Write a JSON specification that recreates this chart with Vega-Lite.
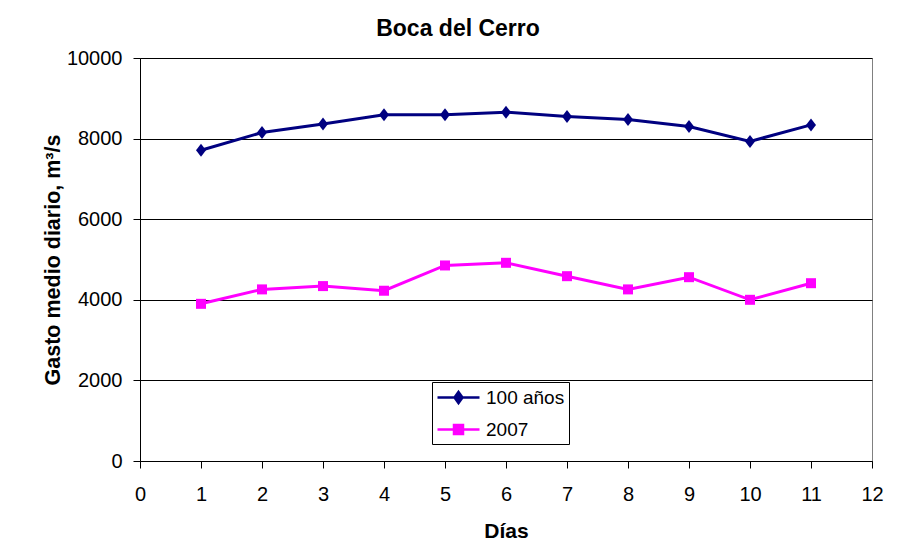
{
  "$schema": "https://vega.github.io/schema/vega-lite/v6.json",
  "width": 732,
  "height": 403,
  "autosize": {"type": "none"},
  "padding": {"left": 140, "top": 58, "right": 26, "bottom": 97},
  "background": "white",
  "title": {
    "text": "Boca del Cerro",
    "font": "Liberation Sans",
    "fontSize": 23,
    "fontWeight": "bold",
    "color": "black",
    "anchor": "middle",
    "dx": -48,
    "offset": 7
  },
  "config": {
    "font": "Liberation Sans",
    "view": {"stroke": "#808080", "strokeWidth": 1}
  },
  "data": {
    "values": [
      {"dia": 1, "serie": "100 años", "gasto": 7710},
      {"dia": 2, "serie": "100 años", "gasto": 8150},
      {"dia": 3, "serie": "100 años", "gasto": 8365},
      {"dia": 4, "serie": "100 años", "gasto": 8590},
      {"dia": 5, "serie": "100 años", "gasto": 8590},
      {"dia": 6, "serie": "100 años", "gasto": 8655},
      {"dia": 7, "serie": "100 años", "gasto": 8550},
      {"dia": 8, "serie": "100 años", "gasto": 8475},
      {"dia": 9, "serie": "100 años", "gasto": 8300},
      {"dia": 10, "serie": "100 años", "gasto": 7930},
      {"dia": 11, "serie": "100 años", "gasto": 8340},
      {"dia": 1, "serie": "2007", "gasto": 3900},
      {"dia": 2, "serie": "2007", "gasto": 4258},
      {"dia": 3, "serie": "2007", "gasto": 4340},
      {"dia": 4, "serie": "2007", "gasto": 4225},
      {"dia": 5, "serie": "2007", "gasto": 4852},
      {"dia": 6, "serie": "2007", "gasto": 4918},
      {"dia": 7, "serie": "2007", "gasto": 4586},
      {"dia": 8, "serie": "2007", "gasto": 4258},
      {"dia": 9, "serie": "2007", "gasto": 4561},
      {"dia": 10, "serie": "2007", "gasto": 4000},
      {"dia": 11, "serie": "2007", "gasto": 4412}
    ]
  },
  "encoding": {
    "x": {
      "field": "dia",
      "type": "quantitative",
      "scale": {"domain": [0, 12], "nice": false, "zero": false},
      "axis": {
        "title": "Días",
        "values": [0,1,2,3,4,5,6,7,8,9,10,11,12],
        "grid": false,
        "domainColor": "black",
        "domainWidth": 1,
        "tickColor": "black",
        "tickSize": 7,
        "labelFontSize": 20,
        "labelColor": "black",
        "labelPadding": 16,
        "labelFlush": false,
        "labelOverlap": false,
        "titleFontSize": 21,
        "titleFontWeight": "bold",
        "titleColor": "black",
        "titlePadding": 16
      }
    },
    "y": {
      "field": "gasto",
      "type": "quantitative",
      "scale": {"domain": [0, 10000], "nice": false},
      "axis": {
        "title": "Gasto medio diario, m³/s",
        "values": [0, 2000, 4000, 6000, 8000, 10000],
        "format": "d",
        "grid": true,
        "gridColor": "black",
        "gridWidth": 1,
        "gridOpacity": 1,
        "domainColor": "black",
        "tickColor": "black",
        "tickSize": 7,
        "labelFontSize": 20,
        "labelColor": "black",
        "labelPadding": 11,
        "labelFlush": false,
        "titleFontSize": 21.5,
        "titleFontWeight": "bold",
        "titleColor": "black",
        "titlePadding": 2
      }
    },
    "color": {
      "field": "serie",
      "type": "nominal",
      "scale": {"domain": ["100 años", "2007"], "range": ["#000080", "#FF00FF"]},
      "legend": {
        "title": null,
        "orient": "none",
        "legendX": 292,
        "legendY": 324,
        "padding": 4,
        "strokeColor": "black",
        "fillColor": "white",
        "cornerRadius": 0,
        "labelFont": "Liberation Sans",
        "labelFontSize": 19,
        "labelColor": "black",
        "labelOffset": 16,
        "symbolOffset": 11,
        "rowPadding": 10,
        "symbolSize": 400,
        "symbolStrokeWidth": 2.5,
        "encode": {
          "symbols": {
            "update": {
              "shape": {"signal": "datum.value === '100 años' ? 'M-2.1,0H2.1M0,-0.55L0.4,0L0,0.55L-0.4,0Z' : 'M-2.1,0H2.1M-0.45,-0.45H0.45V0.45H-0.45Z'"},
              "fill": {"signal": "datum.value === '100 años' ? '#000080' : '#FF00FF'"},
              "stroke": {"signal": "datum.value === '100 años' ? '#000080' : '#FF00FF'"},
              "strokeWidth": {"value": 2.5},
              "opacity": {"value": 1}
            }
          }
        }
      }
    }
  },
  "layer": [
    {
      "mark": {"type": "line", "strokeWidth": 3}
    },
    {
      "mark": {"type": "point", "filled": true, "opacity": 1, "size": 100},
      "encoding": {
        "shape": {
          "condition": {"test": "datum.serie === '2007'", "value": "M-1,-1H1V1H-1Z"},
          "value": "M0,-1.3L1,0L0,1.3L-1,0Z"
        }
      }
    }
  ]
}
